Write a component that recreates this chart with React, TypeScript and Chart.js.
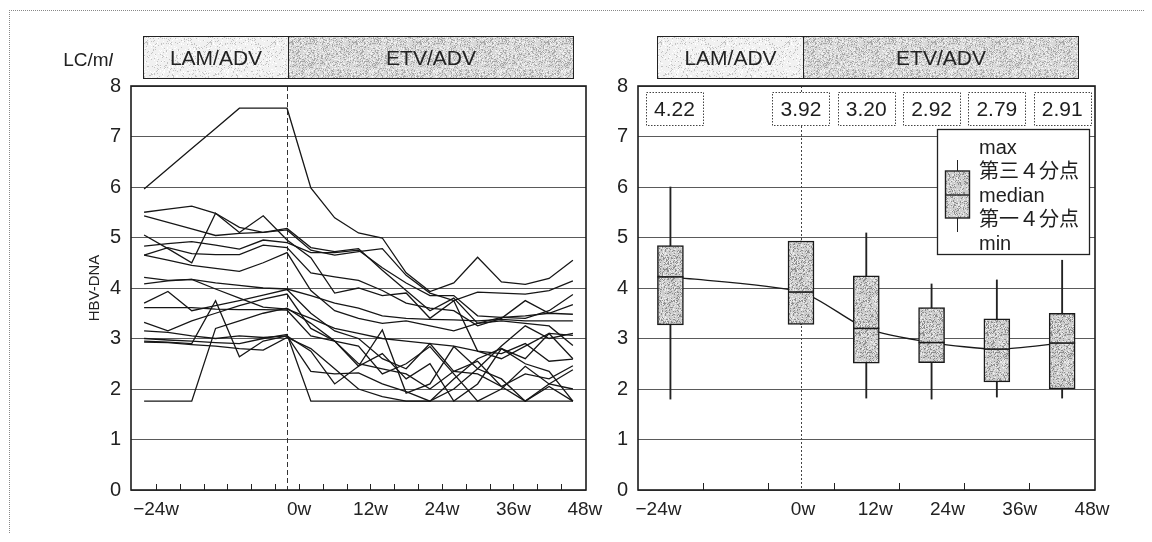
import React, { useEffect, useRef, useState } from "react";
import { Chart, registerables } from "chart.js";

Chart.register(...registerables);

const FONT = "'Liberation Sans', Arial, Helvetica, sans-serif";
const CJK = "'Liberation Sans', 'Noto Sans CJK JP', sans-serif";

// ---------- data ----------
const WEEKS = [-24, -20, -16, -12, -8, -4, 0, 4, 8, 12, 16, 20, 24, 28, 32, 36, 40, 44, 48];

const pt01 = [5.96, 6.36, 6.76, 7.16, 7.56, 7.56, 7.56, 5.98, 5.39, 5.09, 4.99, 4.3, 3.93, 4.1, 4.61, 4.12, 4.07, 4.19, 4.55];
const pt02 = [5.5, 5.56, 5.62, 5.48, 5.2, 5.1, 5.18, 4.8, 4.72, 4.78, 4.35, 3.95, 3.55, 3.8, 3.3, 3.42, 3.45, 3.5, 3.48];
const pt03 = [5.43, 5.3, 5.17, 5.04, 5.08, 5.1, 5.15, 4.75, 4.65, 4.72, 4.78, 4.25, 3.9, 3.75, 3.92, 3.9, 3.88, 3.95, 4.14];
const pt04 = [5.05, 4.78, 4.5, 5.48, 5.1, 5.43, 4.95, 4.6, 3.9, 4.0, 3.85, 3.9, 3.4, 3.75, 2.75, 2.6, 2.85, 3.1, 3.06];
const pt05 = [4.83, 4.88, 4.92, 4.85, 4.77, 4.95, 4.9, 4.7, 4.7, 4.75, 4.4, 4.1, 3.85, 3.85, 3.45, 3.42, 3.4, 3.55, 3.87];
const pt06 = [4.65, 4.8, 4.68, 4.66, 4.66, 4.85, 4.8, 4.3, 4.22, 4.15, 3.95, 3.7, 3.6, 3.55, 3.25, 3.4, 3.75, 3.5, 3.67];
const pt07 = [4.65, 4.55, 4.45, 4.39, 4.33, 4.5, 4.7, 3.95, 3.55, 3.4, 3.3, 3.35, 3.25, 3.15, 3.3, 3.35, 3.3, 3.25, 2.86];
const pt08 = [4.21, 4.15, 4.17, 4.1, 4.05, 4.0, 3.98, 3.85, 3.7, 3.6, 3.45, 3.4, 3.38, 3.37, 3.35, 3.38, 3.35, 3.35, 3.35];
const pt09 = [4.08, 4.14, 4.17, 3.98, 3.8, 3.62, 3.58, 3.4, 3.2, 3.1, 3.0, 2.95, 2.9, 2.85, 2.75, 2.7, 2.9, 2.55, 2.59];
const pt10 = [3.7, 3.93, 3.55, 3.65, 3.75, 3.86, 3.97, 3.5, 3.15, 3.0, 2.6, 2.4, 2.9, 2.35, 2.3, 2.05, 2.3, 2.2, 2.46];
const pt11 = [3.61, 3.61, 3.61, 3.58, 3.57, 3.57, 3.56, 3.05, 2.95, 2.5, 2.4, 2.3, 2.0, 2.35, 2.55, 2.05, 1.76, 2.1, 2.38];
const pt12 = [3.32, 3.15, 3.35, 3.5, 3.65, 3.78, 3.88, 3.2, 2.95, 2.45, 3.17, 1.92, 2.1, 2.84, 2.4, 2.2, 1.76, 2.05, 1.76];
const pt13 = [3.15, 3.12, 3.05, 3.0, 3.05, 3.02, 3.05, 2.35, 2.3, 2.32, 2.1, 1.95, 1.76, 2.2, 2.6, 2.8, 2.5, 2.35, 1.76];
const pt14 = [2.95, 2.93, 2.9, 3.75, 2.64, 2.95, 3.05, 2.75, 2.1, 2.45, 2.7, 2.2, 2.5, 1.76, 2.1, 2.8, 2.6, 3.1, 2.6];
const pt15 = [2.93, 2.92, 2.88, 2.85, 2.8, 2.77, 3.02, 2.8, 2.4, 2.0, 1.85, 1.76, 1.76, 2.0, 2.4, 2.85, 3.25, 3.0, 3.1];
const pt16 = [1.76, 1.76, 1.76, 3.2, 3.35, 3.5, 3.6, 3.3, 2.95, 2.85, 2.3, 2.5, 2.84, 2.3, 1.76, 2.0, 2.45, 2.1, 2.0];
const pt17 = [3.0, 2.97, 2.95, 2.92, 2.9, 3.0, 3.08, 1.76, 1.76, 1.76, 1.76, 1.76, 1.76, 1.76, 1.76, 1.76, 1.76, 1.76, 1.76];
const PATIENTS = [pt01, pt02, pt03, pt04, pt05, pt06, pt07, pt08, pt09, pt10, pt11, pt12, pt13, pt14, pt15, pt16, pt17];

const BOX_WEEKS = [-24, 0, 12, 24, 36, 48];
const BOX_MIN = [1.8, 3.28, 1.82, 1.8, 1.84, 1.82];
const BOX_Q1 = [3.27, 3.28, 2.51, 2.52, 2.14, 2.0];
const BOX_MEDIAN = [4.22, 3.92, 3.2, 2.92, 2.79, 2.91];
const BOX_Q3 = [4.84, 4.93, 4.24, 3.61, 3.39, 3.5];
const BOX_MAX = [6.0, 4.93, 5.09, 4.08, 4.16, 4.55];
const MEDIAN_LABELS = ["4.22", "3.92", "3.20", "2.92", "2.79", "2.91"];

const X_TICK_WEEKS = [-24, 0, 12, 24, 36, 48];
const X_TICK_LABELS = ["\u221224w", "0w", "12w", "24w", "36w", "48w"];
const LEFT_MINOR_TICKS = [-22, -18, -14, -10, -6, -2, 2, 6, 10, 14, 18, 22, 26, 30, 34, 38, 42, 46];
const RIGHT_MINOR_TICKS = [-18, -6, 6, 18, 30, 42];
const LEGEND_LINES = ["max", "第三４分点", "median", "第一４分点", "min"];
const PHASES = ["LAM/ADV", "ETV/ADV"];

// ---------- texture ----------
const hash = (x: number, y: number) => {
  let h = (x * 374761393 + y * 668265263) | 0;
  h = Math.imul(h ^ (h >>> 13), 1274126177);
  h = h ^ (h >>> 16);
  return (h >>> 0) / 4294967295;
};
function stipple(base: string, dark: string, light: string, pDark: number, pLight: number) {
  const c = document.createElement("canvas");
  c.width = 64;
  c.height = 64;
  const g = c.getContext("2d")!;
  g.fillStyle = base;
  g.fillRect(0, 0, 64, 64);
  for (let y = 0; y < 64; y++) {
    for (let x = 0; x < 64; x++) {
      const r = hash(x, y);
      if (r < pDark) {
        g.fillStyle = dark;
        g.fillRect(x, y, 1, 1);
      } else if (r > 1 - pLight) {
        g.fillStyle = light;
        g.fillRect(x, y, 1, 1);
      }
    }
  }
  return c;
}

let boxPatternCanvas: HTMLCanvasElement | null = null;
function boxPattern() {
  if (!boxPatternCanvas) boxPatternCanvas = stipple("#cdcdcd", "#8e8e8e", "#ececec", 0.22, 0.18);
  return boxPatternCanvas;
}

// ---------- plugins ----------
const framePlugin = {
  id: "frame",
  beforeDatasetsDraw(chart: any, _args: any, opts: any) {
    const { ctx, chartArea: a, scales } = chart;
    const x0 = Math.round(scales.x.getPixelForValue(0)) + 0.5;
    ctx.save();
    ctx.strokeStyle = opts.dashColor;
    ctx.lineWidth = 1;
    ctx.setLineDash(opts.dash);
    ctx.beginPath();
    ctx.moveTo(x0, a.top);
    ctx.lineTo(x0, a.bottom);
    ctx.stroke();
    ctx.restore();
  },
  afterDatasetsDraw(chart: any, _args: any, opts: any) {
    const { ctx, chartArea: a, scales } = chart;
    ctx.save();
    ctx.strokeStyle = "#222";
    ctx.lineWidth = 1;
    ctx.beginPath();
    (opts.minor || []).forEach((w: number) => {
      const x = Math.round(scales.x.getPixelForValue(w)) + 0.5;
      ctx.moveTo(x, a.bottom);
      ctx.lineTo(x, a.bottom - opts.minorLen);
    });
    ctx.stroke();
    ctx.lineWidth = 1.6;
    ctx.strokeStyle = "#1c1c1c";
    ctx.strokeRect(a.left, a.top, a.right - a.left, a.bottom - a.top);
    ctx.restore();
  },
};

const annotPlugin = {
  id: "annot",
  afterDraw(chart: any) {
    const { ctx, chartArea: a, scales } = chart;
    ctx.save();
    // median value boxes
    ctx.font = `21px ${FONT}`;
    ctx.textAlign = "center";
    ctx.textBaseline = "middle";
    BOX_WEEKS.forEach((w, i) => {
      const cx = scales.x.getPixelForValue(w) + (i === 0 ? 4 : 0);
      const bx = Math.round(cx - 28.5) + 0.5;
      const by = a.top + 6.5;
      ctx.fillStyle = "#fff";
      ctx.fillRect(bx, by, 57, 33);
      ctx.setLineDash([1.5, 1.5]);
      ctx.strokeStyle = "#444";
      ctx.lineWidth = 1;
      ctx.strokeRect(bx, by, 57, 33);
      ctx.setLineDash([]);
      ctx.fillStyle = "#1e1e1e";
      ctx.fillText(MEDIAN_LABELS[i], cx, by + 17.5);
    });
    // legend
    const lx = Math.round(a.right - 158) + 0.5;
    const ly = Math.round(a.top + 43) + 0.5;
    ctx.fillStyle = "#fff";
    ctx.fillRect(lx, ly, 152, 125);
    ctx.strokeStyle = "#222";
    ctx.lineWidth = 1.3;
    ctx.strokeRect(lx, ly, 152, 125);
    const ix = Math.round(a.right - 138) + 0.5;
    ctx.lineWidth = 1;
    ctx.beginPath();
    ctx.moveTo(ix, a.top + 74);
    ctx.lineTo(ix, a.top + 146);
    ctx.stroke();
    const pat = ctx.createPattern(boxPattern(), "repeat");
    ctx.fillStyle = pat || "#c8c8c8";
    ctx.fillRect(ix - 12, a.top + 85, 24, 47);
    ctx.lineWidth = 1.4;
    ctx.strokeRect(ix - 12, a.top + 85, 24, 47);
    ctx.beginPath();
    ctx.moveTo(ix - 12, a.top + 109);
    ctx.lineTo(ix + 12, a.top + 109);
    ctx.stroke();
    ctx.fillStyle = "#1e1e1e";
    ctx.textAlign = "left";
    ctx.font = `20px ${CJK}`;
    LEGEND_LINES.forEach((t, i) => {
      ctx.fillText(t, a.right - 116, a.top + 62 + i * 24);
    });
    ctx.restore();
  },
};

const axisFont = { family: FONT, size: 20 };

function leftConfig(): any {
  return {
    type: "line",
    data: {
      datasets: PATIENTS.map((p) => ({
        data: WEEKS.map((w, i) => ({ x: w, y: p[i] })),
        borderColor: "#161616",
        borderWidth: 1.3,
        pointRadius: 0,
        tension: 0,
        fill: false,
      })),
    },
    options: {
      responsive: false,
      animation: false,
      events: [],
      layout: { padding: { top: 78, right: 42, left: 0, bottom: 0 } },
      plugins: {
        legend: { display: false },
        tooltip: { enabled: false },
        frame: { dash: [5, 3], dashColor: "#333", minor: LEFT_MINOR_TICKS, minorLen: 6 },
      },
      scales: {
        x: {
          type: "linear",
          min: -26.2,
          max: 50.2,
          offset: false,
          afterBuildTicks: (s: any) => {
            s.ticks = X_TICK_WEEKS.map((v) => ({ value: v }));
          },
          ticks: {
            callback: (_v: any, i: number) => X_TICK_LABELS[i],
            labelOffset: 12,
            padding: 8,
            font: { family: FONT, size: 19 },
            color: "#222",
            maxRotation: 0,
            autoSkip: false,
          },
          grid: { display: false, drawTicks: false },
          border: { display: false },
          afterFit: (s: any) => {
            s.height = 44;
          },
        },
        y: {
          min: 0,
          max: 8,
          ticks: { stepSize: 1, padding: 10, font: axisFont, color: "#222" },
          grid: { color: "#5a5a5a", lineWidth: 1, drawTicks: false },
          border: { display: false },
          title: {
            display: true,
            text: "HBV-DNA",
            font: { family: FONT, size: 15 },
            color: "#222",
            padding: { top: 78, bottom: 0 },
          },
          afterFit: (s: any) => {
            s.width = 123;
          },
        },
      },
    },
    plugins: [framePlugin],
  };
}

function rightConfig(): any {
  const ctxTmp = document.createElement("canvas").getContext("2d")!;
  const fill = ctxTmp.createPattern(boxPattern(), "repeat") || "#c8c8c8";
  return {
    type: "line",
    data: {
      datasets: [
        {
          type: "bar",
          xAxisID: "x",
          data: BOX_WEEKS.map((w, i) => ({ x: w, y: [BOX_MIN[i], BOX_MAX[i]] })),
          backgroundColor: "#222",
          borderWidth: 0,
          barThickness: 1.2,
          grouped: false,
          order: 4,
        },
        {
          type: "line",
          xAxisID: "x",
          data: BOX_WEEKS.map((w, i) => ({ x: w, y: BOX_MEDIAN[i] })),
          borderColor: "#1a1a1a",
          borderWidth: 1.3,
          pointRadius: 0,
          tension: 0.25,
          order: 3,
        },
        {
          type: "bar",
          xAxisID: "x",
          data: BOX_WEEKS.map((w, i) => ({ x: w, y: [BOX_Q1[i], BOX_Q3[i]] })),
          backgroundColor: fill,
          borderColor: "#1a1a1a",
          borderWidth: 1.5,
          borderSkipped: false,
          barThickness: 26,
          grouped: false,
          order: 2,
        },
        {
          type: "line",
          xAxisID: "x",
          showLine: false,
          data: BOX_WEEKS.map((w, i) => ({ x: w, y: BOX_MEDIAN[i] })),
          pointStyle: "line",
          pointRadius: 13,
          pointBorderWidth: 1.6,
          pointBorderColor: "#1a1a1a",
          borderColor: "#1a1a1a",
          order: 1,
        },
      ],
    },
    options: {
      responsive: false,
      animation: false,
      events: [],
      layout: { padding: { top: 78, right: 49, left: 0, bottom: 0 } },
      plugins: {
        legend: { display: false },
        tooltip: { enabled: false },
        frame: { dash: [2, 2], dashColor: "#444", minor: RIGHT_MINOR_TICKS, minorLen: 7 },
      },
      scales: {
        x: { type: "linear", min: -29.96, max: 54.04, display: false, offset: false },
        xl: {
          type: "linear",
          position: "bottom",
          min: -27.4,
          max: 48.5,
          offset: false,
          afterBuildTicks: (s: any) => {
            s.ticks = X_TICK_WEEKS.map((v) => ({ value: v }));
          },
          ticks: {
            callback: (_v: any, i: number) => X_TICK_LABELS[i],
            padding: 8,
            font: { family: FONT, size: 19 },
            color: "#222",
            maxRotation: 0,
            autoSkip: false,
          },
          grid: { display: false, drawTicks: false },
          border: { display: false },
          afterFit: (s: any) => {
            s.height = 44;
          },
        },
        y: {
          min: 0,
          max: 8,
          ticks: { stepSize: 1, padding: 10, font: axisFont, color: "#222" },
          grid: { color: "#5a5a5a", lineWidth: 1, drawTicks: false },
          border: { display: false },
          afterFit: (s: any) => {
            s.width = 38;
          },
        },
      },
    },
    plugins: [framePlugin, annotPlugin],
  };
}

function PhaseHeader({ left, top, widths, bgs }: { left: number; top: number; widths: number[]; bgs: string[] }) {
  return (
    <div
      style={{
        position: "absolute",
        left,
        top,
        display: "flex",
        border: "1.5px solid #222",
        height: 43,
        boxSizing: "border-box",
      }}
    >
      {PHASES.map((p, i) => (
        <div
          key={p}
          style={{
            width: widths[i],
            height: "100%",
            boxSizing: "border-box",
            borderLeft: i > 0 ? "1.5px solid #222" : "none",
            display: "flex",
            alignItems: "center",
            justifyContent: "center",
            fontFamily: FONT,
            fontSize: 21,
            color: "#222",
            backgroundImage: bgs[i] ? `url(${bgs[i]})` : undefined,
            backgroundColor: i === 0 ? "#efefef" : "#d6d6d6",
          }}
        >
          {p}
        </div>
      ))}
    </div>
  );
}

export default function App() {
  const leftRef = useRef<HTMLCanvasElement>(null);
  const rightRef = useRef<HTMLCanvasElement>(null);
  const [bgs, setBgs] = useState<string[]>(["", ""]);

  useEffect(() => {
    setBgs([
      stipple("#f1f1f1", "#c4c4c4", "#ffffff", 0.1, 0.1).toDataURL(),
      stipple("#d8d8d8", "#a8a8a8", "#f2f2f2", 0.22, 0.2).toDataURL(),
    ]);
    const l = new Chart(leftRef.current!, leftConfig());
    const r = new Chart(rightRef.current!, rightConfig());
    return () => {
      l.destroy();
      r.destroy();
    };
  }, []);

  return (
    <div style={{ position: "relative", width: 1144, height: 526, overflow: "hidden", background: "#fff" }}>
      <div
        style={{
          position: "absolute",
          left: 1,
          top: 2,
          width: 1200,
          height: 600,
          borderLeft: "1px dotted #888",
          borderTop: "1px dotted #888",
        }}
      />
      <canvas ref={leftRef} width={620} height={526} style={{ position: "absolute", left: 0, top: 0, width: 620, height: 526 }} />
      <canvas ref={rightRef} width={544} height={526} style={{ position: "absolute", left: 592, top: 0, width: 544, height: 526 }} />
      <div
        style={{
          position: "absolute",
          left: 50,
          top: 40,
          width: 60,
          textAlign: "center",
          fontFamily: FONT,
          fontSize: 19,
          color: "#222",
          lineHeight: "24px",
        }}
      >
        LC/m<i>l</i>
      </div>
      <PhaseHeader left={135} top={28} widths={[144, 285]} bgs={bgs} />
      <PhaseHeader left={649} top={28} widths={[145, 275]} bgs={bgs} />
    </div>
  );
}
